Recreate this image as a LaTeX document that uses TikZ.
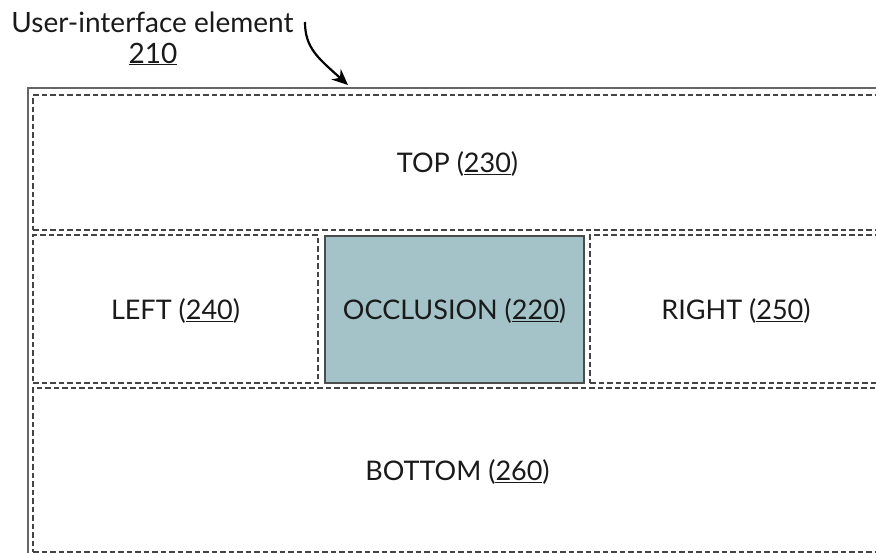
\documentclass[tikz,border=0pt]{standalone}
\usepackage{fontspec}
\setmainfont{Lato}
\usetikzlibrary{arrows.meta}
\definecolor{occfill}{HTML}{A3C3C8}
\definecolor{linegrey}{HTML}{444444}
\definecolor{txt}{HTML}{1A1A1A}
\begin{document}
\begin{tikzpicture}[x=1pt,y=-1pt,
  region/.style={draw=linegrey, line width=1.3pt, dash pattern=on 5.5pt off 3pt, inner sep=0pt,
    font=\fontsize{27}{32}\selectfont, text=txt, text depth=0pt},
  occbox/.style={draw=black!70, fill=occfill, line width=1.5pt, inner sep=0pt,
    font=\fontsize{27}{32}\selectfont, text=txt, text depth=0pt},
  lbl/.style={font=\fontsize{28}{33}\selectfont, text=txt, inner sep=0pt}]
\useasboundingbox (0,0) rectangle (876,552);
\clip (0,0) rectangle (876,552);
\node[draw=black!60, line width=2pt, minimum width=862pt, minimum height=472pt, inner sep=0pt] (outer) at (459,324) {};
\node[region, minimum width=849pt, minimum height=135pt] (top) at (457.5,162.5) {TOP (\underline{230})};
\node[region, minimum width=285pt, minimum height=148pt] (left) at (175.5,309) {LEFT (\underline{240})};
\node[occbox, minimum width=259pt, minimum height=147pt] (occ) at (454.5,309.5) {OCCLUSION (\underline{220})};
\node[region, minimum width=292pt, minimum height=148pt] (right) at (736,309) {RIGHT (\underline{250})};
\node[region, minimum width=849pt, minimum height=164pt] (bottom) at (457.5,470) {BOTTOM (\underline{260})};
\node[lbl, anchor=base] (title) at (152.5,32) {User-interface element};
\node[lbl, anchor=base] (num) at (153,63) {\underline{210}};
\coordinate (astart) at (305,22);
\coordinate (aend) at (348,85);
\draw[line width=2.2pt, -{Stealth[length=16pt,width=14pt]}] (astart) .. controls (305,48) and (318,58) .. (aend);
\end{tikzpicture}
\end{document}
